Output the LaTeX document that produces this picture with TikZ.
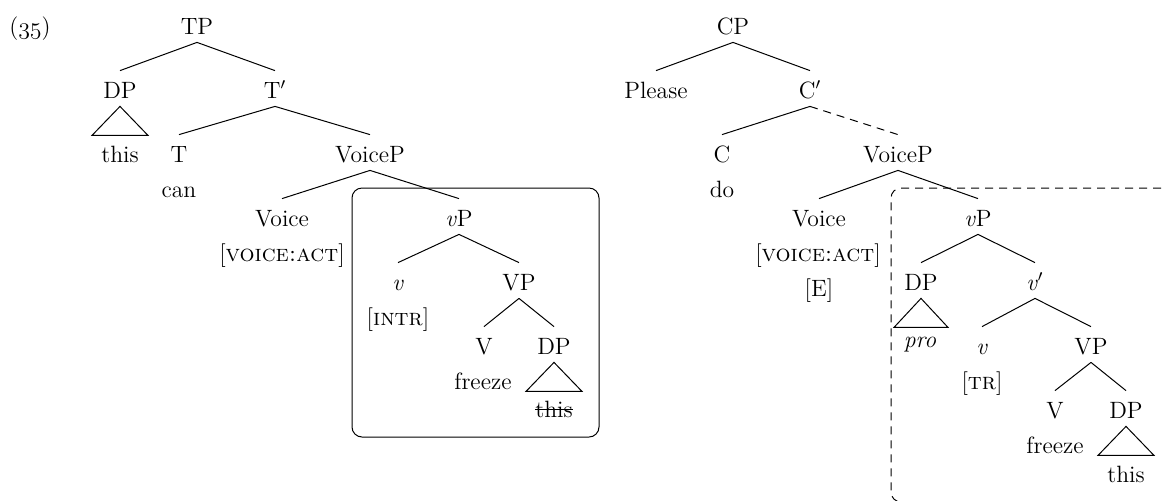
\documentclass[tikz,border=0pt]{standalone}
\usepackage{fontspec}
\begin{document}
\begin{tikzpicture}[x=0.5pt,y=-0.5pt,
  every node/.style={font=\fontsize{11.8pt}{14pt}\selectfont},
  cat/.style={anchor=base,inner sep=0pt,text height=13.5pt,text depth=4pt},
  txt/.style={anchor=base,inner sep=0pt},
  br/.style={line width=0.5pt},
  elided/.style={line width=0.5pt,dash pattern=on 4pt off 3pt}]
\useasboundingbox (0,0) rectangle (1163,500);

% ---------- left tree ----------
\node[txt] (ex) at (30,34) {({\usefont{OML}{cmm}{m}{it}35})};
\node[cat] (tp) at (197,34) {TP};
\node[cat] (dpa) at (120,98) {DP};
\node[cat] (tbar) at (275,98) {T$'$};
\node[txt] (thisa) at (120,162) {this};
\node[cat] (t) at (179,162) {T};
\node[txt] (can) at (179,197) {can};
\node[cat] (voicepa) at (370,162) {VoiceP};
\node[cat] (voicea) at (282,226) {Voice};
\node[txt] (fa) at (282,261) {[\textsc{voice:act}]};
\node[cat] (vpa) at (459,226) {\textit{v}P};
\node[cat] (va) at (398,290) {\textit{v}};
\node[txt] (intr) at (398,325) {[\textsc{intr}]};
\node[cat] (VPa) at (519,290) {VP};
\node[cat] (Va) at (484,354) {V};
\node[txt] (freezea) at (483,389) {freeze};
\node[cat] (dpb) at (554,354) {DP};
\node[txt] (thisb) at (554,417) {this};

\draw[br] (tp.south) -- (dpa.north);
\draw[br] (tp.south) -- (tbar.north);
\draw[br] (tbar.south) -- (t.north);
\draw[br] (tbar.south) -- (voicepa.north);
\draw[br] (voicepa.south) -- (voicea.north);
\draw[br] (voicepa.south) -- (vpa.north);
\draw[br] (vpa.south) -- (va.north);
\draw[br] (vpa.south) -- (VPa.north);
\draw[br] (VPa.south) -- (Va.north);
\draw[br] (VPa.south) -- (dpb.north);
\draw[br] (dpa.south) -- ++(-28,29) -- ++(56,0) -- cycle;
\draw[br] (dpb.south) -- ++(-28,29) -- ++(56,0) -- cycle;
\draw[br] ([yshift=4pt]thisb.base west) -- ([yshift=4pt]thisb.base east);
\draw[br,rounded corners=5pt] (352,188) rectangle (599,437);

% ---------- right tree ----------
\node[cat] (cp) at (733,34) {CP};
\node[cat] (please) at (656,98) {Please};
\node[cat] (cbar) at (810,98) {C$'$};
\node[cat] (c) at (722,162) {C};
\node[txt] (do) at (722,197) {do};
\node[cat] (voicepb) at (898,162) {VoiceP};
\node[cat] (voiceb) at (819,226) {Voice};
\node[txt] (fb) at (818,261) {[\textsc{voice:act}]};
\node[txt] (fe) at (819,296) {[E]};
\node[cat] (vpb) at (978,226) {\textit{v}P};
\node[cat] (dpc) at (921,290) {DP};
\node[txt] (pro) at (920,347) {\textit{pro}};
\node[cat] (vbar) at (1035,290) {\textit{v}$'$};
\node[cat] (vb) at (982,354) {\textit{v}};
\node[txt] (tr) at (982,389) {[\textsc{tr}]};
\node[cat] (VPb) at (1091,354) {VP};
\node[cat] (Vb) at (1055,418) {V};
\node[txt] (freezeb) at (1055,453) {freeze};
\node[cat] (dpd) at (1126,418) {DP};
\node[txt] (thisc) at (1126,482) {this};

\draw[br] (cp.south) -- (please.north);
\draw[br] (cp.south) -- (cbar.north);
\draw[br] (cbar.south) -- (c.north);
\draw[elided] (cbar.south) -- (voicepb.north);
\draw[br] (voicepb.south) -- (voiceb.north);
\draw[br] (voicepb.south) -- (vpb.north);
\draw[br] (vpb.south) -- (dpc.north);
\draw[br] (vpb.south) -- (vbar.north);
\draw[br] (vbar.south) -- (vb.north);
\draw[br] (vbar.south) -- (VPb.north);
\draw[br] (VPb.south) -- (Vb.north);
\draw[br] (VPb.south) -- (dpd.north);
\draw[br] (dpc.south) -- ++(-27,29) -- ++(54,0) -- cycle;
\draw[br] (dpd.south) -- ++(-28,29) -- ++(56,0) -- cycle;

\begin{scope}
\clip (0,0) rectangle (1163,500);
\draw[elided,rounded corners=5pt] (1175,188) -- (891,188) -- (891,502) -- (905,502);
\end{scope}
\end{tikzpicture}
\end{document}
